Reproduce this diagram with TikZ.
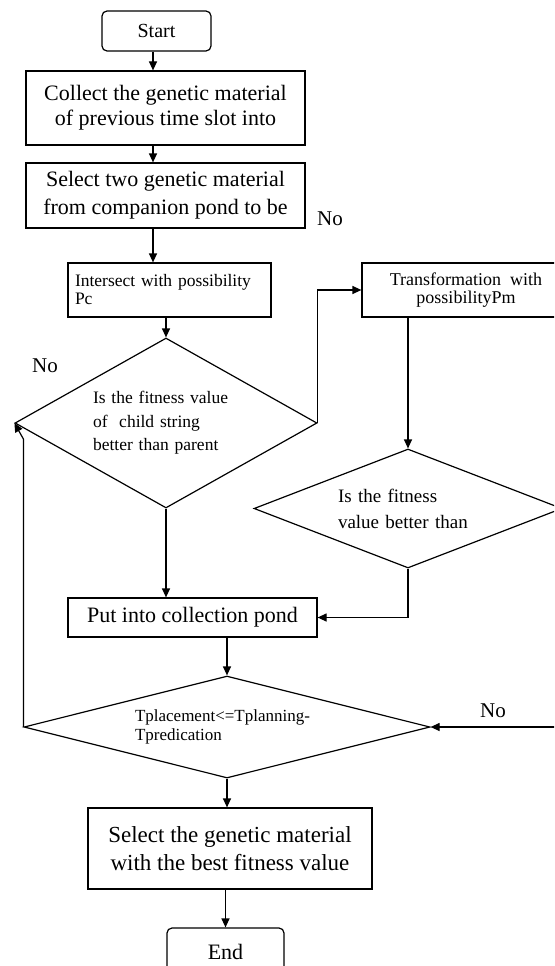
\documentclass[tikz,border=0pt]{standalone}
\usepackage{fontspec}
\setmainfont{Liberation Serif}
\usetikzlibrary{shapes.geometric,arrows.meta,calc}
\newcommand\myfs[2]{\fontsize{#1}{#2}\selectfont}
\begin{document}
\begin{tikzpicture}[x=1pt,y=-1pt,
  box/.style={draw,line width=1.2pt,inner sep=0pt,align=center},
  dia/.style={draw,diamond,line width=1.2pt,inner sep=0pt},
  arr/.style={line width=1.2pt,-{Triangle[length=9pt,width=8pt]}},
  ln/.style={line width=1.2pt},
  lbl/.style={font=\myfs{21}{24},inner sep=0pt}]
\useasboundingbox (0,0) rectangle (554,966);
\clip (0,0) rectangle (554,966);

% nodes
\node[box,rounded corners=5pt,minimum width=109pt,minimum height=40pt,font=\myfs{20}{24}] (start) at (156.5,31) {Start};
\node[box,minimum width=279pt,minimum height=74pt,font=\myfs{22}{25}] (box1) at (165.5,108) {Collect the genetic material\\of previous time slot into};
\node[box,minimum width=279pt,minimum height=65pt,font=\myfs{22}{28}] (box2) at (165.5,195.5) {Select two genetic material\\from companion pond to be};
\node[box,minimum width=203pt,minimum height=54pt,text width=189pt,align=left,font=\myfs{17.5}{18}] (inter) at (169.5,290) {Intersect with possibility\\Pc};
\node[box,minimum width=208pt,minimum height=54pt,font=\myfs{18}{18}] (trans) at (466,290) {Transformation\ \ with\\possibilityPm};
\node[dia,aspect=1.78,minimum width=302pt,minimum height=170pt,text width=146pt,align=left,font=\myfs{17.5}{23.5}] (d1) at (166,423) {Is the fitness value\\of\ \ child string\\better than parent};
\node[dia,aspect=2.6,minimum width=308pt,minimum height=119pt,text width=140pt,align=left,font=\myfs{19}{26}] (d2) at (408,508.5) {Is the fitness\\value better than};
\node[box,minimum width=249pt,minimum height=39pt,font=\myfs{22}{26}] (put) at (192.5,617.5) {Put into collection pond};
\node[dia,aspect=4,minimum width=406pt,minimum height=102pt,text width=184pt,align=left,font=\myfs{17}{19}] (d3) at (227,727) {Tplacement<=Tplanning-\\Tpredication};
\node[box,minimum width=284pt,minimum height=81pt,font=\myfs{23}{28}] (sel) at (230,848.5) {Select the genetic material\\with the best fitness value};
\node[box,rounded corners=5pt,minimum width=117pt,minimum height=47pt,font=\myfs{22}{26}] (end) at (225.5,951.5) {End};

% labels
\node[lbl] (no1) at (330,219) {No};
\node[lbl] (no2) at (45,366) {No};
\node[lbl] (no3) at (493,711) {No};

\coordinate (rin) at (560,727);

% connectors
\draw[arr] ([xshift=-3.5pt]start.south) -- ([xshift=-12.5pt]box1.north);
\draw[arr] ([xshift=-12.5pt]box1.south) -- ([xshift=-12.5pt]box2.north);
\draw[arr] ([xshift=-12.5pt]box2.south) -- ([xshift=-16.5pt]inter.north);
\draw[arr] (d1.north |- inter.south) -- (d1.north);
\draw[arr] (d1.east) |- (trans.west);
\draw[arr] (d2.north |- trans.south) -- (d2.north);
\draw[arr] (d2.south) |- (put.east);
\draw[arr] (d1.south) -- (d1.south |- put.north);
\draw[arr] (d3.north |- put.south) -- (d3.north);
\draw[arr] (d3.south) -- (d3.south |- sel.north);
\draw[arr] (end.north |- sel.south) -- (end.north);
\draw[arr] (d3.west) -- ($(d3.west |- d1.west)+(0,16)$) -- (d1.west);
\draw[arr] (rin |- d3.east) -- (d3.east);
\end{tikzpicture}
\end{document}
